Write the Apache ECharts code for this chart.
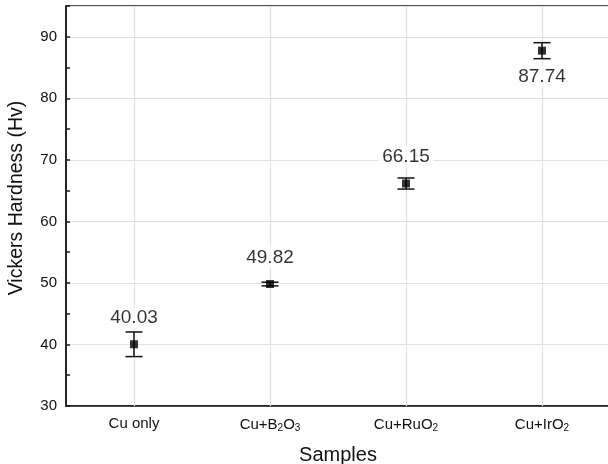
<!DOCTYPE html>
<html>
<head>
<meta charset="utf-8">
<script src="https://cdn.jsdelivr.net/npm/echarts@6/dist/echarts.min.js"></script>
<style>
    html, body { margin: 0; padding: 0; background: #fff; }
    #main { width: 608px; height: 464px; }
</style>
</head>
<body>
<div id="main"></div>
<script>
    // samples on the x axis (rich text gives the subscripts)
    var categories = ['Cu only', 'Cu+B{sub|2}O{sub|3}', 'Cu+RuO{sub|2}', 'Cu+IrO{sub|2}'];
    // mean Vickers hardness
    var hardness = [40.03, 49.82, 66.15, 87.74];
    // error bar half-height
    var errors = [2.0, 0.3, 0.9, 1.3];
    // where the value label sits
    var labelPos = ['top', 'top', 'top', 'bottom'];

    var myChart = echarts.init(document.getElementById('main'));

    var points = hardness.map(function (v, i) {
        return {
            value: [i, v],
            label: { position: labelPos[i] }
        };
    });
    var bars = hardness.map(function (v, i) {
        return [i, v - errors[i], v + errors[i]];
    });

    var axisColor = '#1a1a1a';

    myChart.setOption({
        animation: false,
        textStyle: { fontFamily: 'Liberation Sans, Arial, sans-serif' },
        grid: {
            left: 66, right: -2, top: 6, bottom: 58,
            outerBoundsMode: 'none',
            containLabel: false,
            show: true, borderColor: axisColor, borderWidth: 1.5
        },
        xAxis: {
            type: 'category',
            data: categories,
            name: 'Samples',
            nameLocation: 'middle',
            nameGap: 39,
            nameTextStyle: { fontSize: 20, color: '#111' },
            axisLine: { lineStyle: { color: axisColor, width: 1.5 } },
            axisTick: { inside: true, alignWithLabel: true, length: 6, lineStyle: { color: axisColor, width: 1.5 } },
            axisLabel: {
                interval: 0,
                fontSize: 15, color: '#111', margin: 10,
                rich: { sub: { fontSize: 10, color: '#111', verticalAlign: 'bottom', padding: [7, 0, 0, 0] } }
            },
            splitLine: { show: false }
        },
        yAxis: [{
            type: 'value',
            min: 30, max: 95, interval: 10,
            name: 'Vickers Hardness (Hv)',
            nameLocation: 'middle',
            nameGap: 39,
            nameTextStyle: { fontSize: 19.5, color: '#111', padding: [0, 0, 0, 16] },
            axisLine: { show: true, lineStyle: { color: axisColor, width: 1.5 } },
            axisTick: { inside: true, length: 7, lineStyle: { color: axisColor, width: 1.5 } },
            axisLabel: {
                fontSize: 15, color: '#111', margin: 9,
                formatter: function (v) { return v > 90 ? '' : v; }
            },
            splitLine: { lineStyle: { color: '#e2e2e2', width: 1.2 } }
        }, {
            // minor ticks every 5
            type: 'value',
            position: 'left',
            min: 30, max: 95, interval: 5,
            axisLine: { show: false },
            axisTick: { show: true, inside: true, length: 4, lineStyle: { color: axisColor, width: 1.5 } },
            axisLabel: { show: false },
            splitLine: { show: false }
        }],
        series: [{
            type: 'custom',
            silent: true,
            z: 3,
            data: bars,
            renderItem: function (params, api) {
                var x = api.value(0);
                var lo = api.coord([x, api.value(1)]);
                var hi = api.coord([x, api.value(2)]);
                var w = 8.5;
                var style = { stroke: '#111', lineWidth: 1.5 };
                return {
                    type: 'group',
                    children: [
                        { type: 'line', shape: { x1: lo[0], y1: lo[1], x2: hi[0], y2: hi[1] }, style: style },
                        { type: 'line', shape: { x1: lo[0] - w, y1: lo[1], x2: lo[0] + w, y2: lo[1] }, style: style },
                        { type: 'line', shape: { x1: hi[0] - w, y1: hi[1], x2: hi[0] + w, y2: hi[1] }, style: style }
                    ]
                };
            }
        }, {
            type: 'scatter',
            z: 4,
            symbol: 'rect',
            symbolSize: 8,
            itemStyle: { color: '#000' },
            data: points,
            label: {
                show: true,
                distance: 12,
                fontSize: 19,
                color: '#000',
                backgroundColor: '#fff',
                padding: [1, 4],
                formatter: function (p) { return p.value[1].toFixed(2); }
            },
            markLine: {
                silent: true,
                symbol: 'none',
                z: 1,
                label: { show: false },
                lineStyle: { color: '#e2e2e2', width: 1.2, type: 'solid' },
                data: categories.map(function (c) { return { xAxis: c }; })
            }
        }]
    });
</script>
</body>
</html>
